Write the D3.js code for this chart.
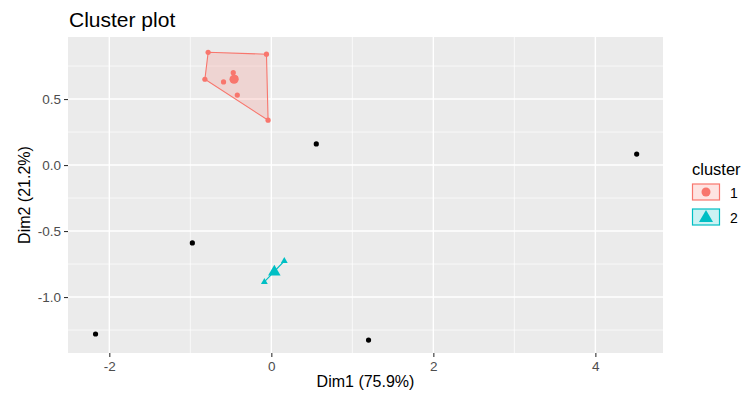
<!DOCTYPE html>
<html>
<head>
<meta charset="utf-8">
<script src="https://cdn.jsdelivr.net/npm/d3@7"></script>
<style>
  body { margin: 0; background: #fff; }
  text { font-family: "Liberation Sans", Arial, sans-serif; }
</style>
</head>
<body>
<div id="chart"></div>
<script>
// points not in any cluster (drawn black)
var outX = [-2.17, -0.975, 0.555, 4.51, 1.20];
var outY = [-1.28, -0.59, 0.16, 0.083, -1.326];

// cluster 1
var c1X = [-0.78, -0.06, -0.04, -0.82, -0.47, -0.59, -0.42, -0.44];
var c1Y = [0.854, 0.84, 0.34, 0.65, 0.70, 0.63, 0.53, 0.66];
var c1Center = [-0.46, 0.65];

// cluster 2
var c2X = [0.16, -0.086];
var c2Y = [-0.727, -0.886];
var c2Center = [0.037, -0.81];

var clusters = ["1", "2"];
var xTicks = [-2, 0, 2, 4];
var yTicks = [0.5, 0.0, -0.5, -1.0];

var width = 746, height = 396;
var margin = { top: 37, right: 83, bottom: 43, left: 68 };
var innerW = width - margin.left - margin.right;
var innerH = height - margin.top - margin.bottom;

var colors = ["#F8766D", "#00BFC4"];

var svg = d3.select("#chart").append("svg")
  .attr("width", width).attr("height", height);

var x = d3.scaleLinear().domain([-2.51, 4.835]).range([0, innerW]);
var y = d3.scaleLinear().domain([-1.424, 0.97]).range([innerH, 0]);

var g = svg.append("g").attr("transform", "translate(" + margin.left + "," + margin.top + ")");

g.append("rect").attr("width", innerW).attr("height", innerH).attr("fill", "#EBEBEB");

// minor grid
[-1, 1, 3].forEach(function(v) {
  g.append("line").attr("x1", x(v)).attr("x2", x(v)).attr("y1", 0).attr("y2", innerH)
    .attr("stroke", "#fff").attr("stroke-width", 0.7);
});
[0.75, 0.25, -0.25, -0.75, -1.25].forEach(function(v) {
  g.append("line").attr("y1", y(v)).attr("y2", y(v)).attr("x1", 0).attr("x2", innerW)
    .attr("stroke", "#fff").attr("stroke-width", 0.7);
});
// major grid
xTicks.forEach(function(v) {
  g.append("line").attr("x1", x(v)).attr("x2", x(v)).attr("y1", 0).attr("y2", innerH)
    .attr("stroke", "#fff").attr("stroke-width", 1.4);
});
yTicks.forEach(function(v) {
  g.append("line").attr("y1", y(v)).attr("y2", y(v)).attr("x1", 0).attr("x2", innerW)
    .attr("stroke", "#fff").attr("stroke-width", 1.4);
});

// hulls
function hullOf(xs, ys) {
  var pts = xs.map(function(d, i) { return [x(d), y(ys[i])]; });
  return d3.polygonHull(pts) || pts;
}
var hulls = [hullOf(c1X, c1Y), hullOf(c2X, c2Y)];
hulls.forEach(function(h, i) {
  g.append("path")
    .attr("d", "M" + h.join("L") + "Z")
    .attr("fill", colors[i]).attr("fill-opacity", 0.2)
    .attr("stroke", colors[i]).attr("stroke-width", 1.1);
});

// triangle symbol
var tri = d3.symbol().type(d3.symbolTriangle);

// cluster 1 points
c1X.forEach(function(d, i) {
  g.append("circle").attr("cx", x(d)).attr("cy", y(c1Y[i])).attr("r", 2.6).attr("fill", colors[0]);
});
g.append("circle").attr("cx", x(c1Center[0])).attr("cy", y(c1Center[1])).attr("r", 4.6).attr("fill", colors[0]);

// cluster 2 points
c2X.forEach(function(d, i) {
  g.append("path").attr("d", tri.size(20)())
    .attr("transform", "translate(" + x(d) + "," + y(c2Y[i]) + ")").attr("fill", colors[1]);
});
g.append("path").attr("d", tri.size(68)())
  .attr("transform", "translate(" + x(c2Center[0]) + "," + y(c2Center[1]) + ")").attr("fill", colors[1]);

// outliers
outX.forEach(function(d, i) {
  g.append("circle").attr("cx", x(d)).attr("cy", y(outY[i])).attr("r", 2.6).attr("fill", "#000");
});

// axes
var xAxis = g.append("g").attr("transform", "translate(0," + innerH + ")")
  .call(d3.axisBottom(x).tickValues(xTicks).tickSize(4).tickPadding(4).tickFormat(d3.format("d")));
var yAxis = g.append("g")
  .call(d3.axisLeft(y).tickValues(yTicks).tickSize(4).tickPadding(3).tickFormat(d3.format(".1f")));
[xAxis, yAxis].forEach(function(a) {
  a.select(".domain").remove();
  a.selectAll(".tick line").attr("stroke", "#333").attr("stroke-width", 1.1);
  a.selectAll(".tick text").attr("fill", "#4D4D4D").style("font-size", "13.5px")
    .style("font-family", "'Liberation Sans', Arial, sans-serif");
});
xAxis.selectAll(".tick text").text(function(d) { return d < 0 ? "-" + Math.abs(d) : d; });
yAxis.selectAll(".tick text").text(function(d) { return d < 0 ? "-" + d3.format(".1f")(Math.abs(d)) : d3.format(".1f")(d); });

// titles
svg.append("text").attr("x", 69).attr("y", 27)
  .style("font-size", "21px").attr("fill", "#000").text("Cluster plot");
svg.append("text").attr("x", margin.left + innerW / 2).attr("y", 387)
  .attr("text-anchor", "middle").style("font-size", "16px").attr("fill", "#000").text("Dim1 (75.9%)");
svg.append("text").attr("transform", "translate(30," + (margin.top + innerH / 2) + ") rotate(-90)")
  .attr("text-anchor", "middle").style("font-size", "16px").attr("fill", "#000").text("Dim2 (21.2%)");

// legend
var lg = svg.append("g").attr("transform", "translate(692,0)");
lg.append("text").attr("x", 0).attr("y", 175).style("font-size", "16.5px").attr("fill", "#000").text("cluster");
clusters.forEach(function(c, i) {
  var top = 184 + i * 25;
  lg.append("rect").attr("x", 0.5).attr("y", top).attr("width", 27).attr("height", 16)
    .attr("fill", colors[i]).attr("fill-opacity", 0.2).attr("stroke", colors[i]).attr("stroke-width", 1.2);
  if (i === 0) {
    lg.append("circle").attr("cx", 14).attr("cy", top + 8).attr("r", 4.5).attr("fill", colors[i]);
  } else {
    lg.append("path").attr("d", tri.size(85)()).attr("transform", "translate(14," + (top + 9) + ")").attr("fill", colors[i]);
  }
  lg.append("text").attr("x", 38).attr("y", top + 13.5).style("font-size", "14px").attr("fill", "#000").text(c);
});
</script>
</body>
</html>
